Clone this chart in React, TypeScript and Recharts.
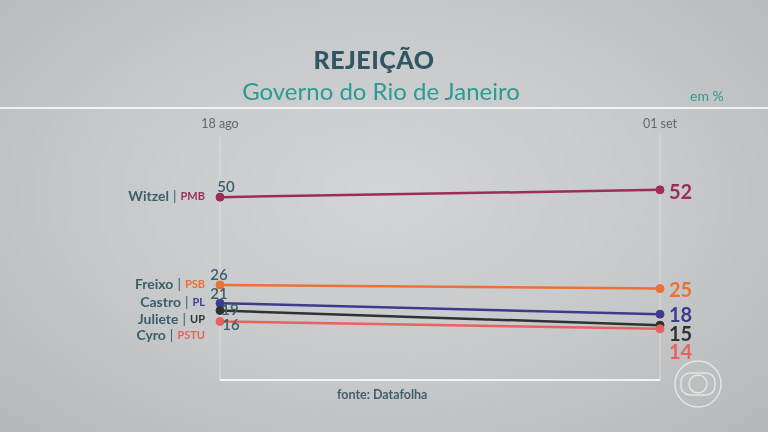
import { CartesianGrid, LabelList, Line, LineChart, ReferenceLine, XAxis, YAxis } from "recharts";

const dates = ["18 ago", "01 set"];
const witzel = [50, 52];
const freixo = [26, 25];
const castro = [21, 18];
const juliete = [19, 15];
const cyro = [16, 14];

const candidates = ["Witzel", "Freixo", "Castro", "Juliete", "Cyro"];
const parties = ["PMB", "PSB", "PL", "UP", "PSTU"];
const seriesValues = [witzel, freixo, castro, juliete, cyro];
const seriesKeys = ["witzel", "freixo", "castro", "juliete", "cyro"];
const colors = ["#9c2d58", "#ea7235", "#3b3d8c", "#2d3234", "#e8625d"];

// label nudges so the crowded bottom group stays readable
const leftValueShift = [
  [6, -11],
  [-1, -11],
  [-1, -10],
  [10, -2],
  [11, 3],
];
const rightValueShift = [1, 0, 0, 8, 22];
const nameShift = [-2, -2, -2, 7, 13];

const data = dates.map((date, i) => {
  const row: Record<string, string | number> = { date };
  seriesKeys.forEach((key, s) => {
    row[key] = seriesValues[s][i];
  });
  return row;
});

const FONT = "Lato, 'Open Sans', sans-serif";
const TEAL_DARK = "#3a5f6b";

function makeLabel(s: number) {
  return function SeriesLabel(props: any) {
    const { x, y, index, value } = props;
    if (x == null || y == null) return null;
    if (index === 0) {
      return (
        <g>
          <text
            x={x + leftValueShift[s][0]}
            y={y + leftValueShift[s][1]}
            textAnchor="middle"
            dominantBaseline="central"
            fontFamily={FONT}
            fontSize={15}
            fontWeight={600}
            fill={TEAL_DARK}
          >
            {value}
          </text>
          <text
            x={x - 15}
            y={y + nameShift[s]}
            textAnchor="end"
            dominantBaseline="central"
            fontFamily={FONT}
          >
            <tspan fontSize={14} fontWeight={700} fill={TEAL_DARK}>
              {candidates[s]}
            </tspan>
            <tspan fontSize={14} fill={TEAL_DARK} dx={4}>
              |
            </tspan>
            <tspan fontSize={11} fontWeight={700} fill={colors[s]} dx={4}>
              {parties[s]}
            </tspan>
          </text>
        </g>
      );
    }
    return (
      <text
        x={x + 9}
        y={y + rightValueShift[s]}
        textAnchor="start"
        dominantBaseline="central"
        fontFamily={FONT}
        fontSize={20}
        fontWeight={700}
        fill={colors[s]}
      >
        {value}
      </text>
    );
  };
}

export default function App() {
  return (
    <div
      style={{
        position: "fixed",
        left: 0,
        top: 0,
        width: 768,
        height: 432,
        overflow: "hidden",
        background:
          "radial-gradient(ellipse at 50% 45%, #d3d4d5 0%, #c7c8c9 55%, #b6b7b8 100%)",
        fontFamily: FONT,
      }}
    >
      <div
        style={{
          position: "absolute",
          left: 0,
          width: 748,
          top: 44,
          textAlign: "center",
          fontSize: 25,
          fontWeight: 900,
          color: "#2f5662",
          letterSpacing: 0.5,
        }}
      >
        REJEIÇÃO
      </div>
      <div
        style={{
          position: "absolute",
          left: 0,
          width: 762,
          top: 76,
          textAlign: "center",
          fontSize: 24,
          fontWeight: 400,
          color: "#2b9b93",
        }}
      >
        Governo do Rio de Janeiro
      </div>
      <div
        style={{
          position: "absolute",
          left: 690,
          top: 87,
          fontSize: 14,
          color: "#2b9b93",
        }}
      >
        em %
      </div>
      <div
        style={{
          position: "absolute",
          left: 0,
          top: 107,
          width: 768,
          height: 2,
          background: "#f2f2f2",
        }}
      />
      <div
        style={{
          position: "absolute",
          left: 337,
          top: 387,
          fontSize: 12.5,
          fontWeight: 700,
          color: "#3f5f6b",
        }}
      >
        fonte: Datafolha
      </div>
      <svg
        style={{ position: "absolute", left: 672, top: 358 }}
        width={52}
        height={52}
        viewBox="0 0 52 52"
      >
        <circle cx={26} cy={26} r={23} fill="none" stroke="#eeeeee" strokeWidth={1.5} opacity={0.8} />
        <rect x={9} y={15} width={34} height={22} rx={9} fill="none" stroke="#eeeeee" strokeWidth={1.5} opacity={0.8} />
        <circle cx={26} cy={26} r={9} fill="none" stroke="#eeeeee" strokeWidth={1.5} opacity={0.8} />
      </svg>
      <div style={{ position: "absolute", left: 0, top: 0 }}>
        <LineChart
          width={768}
          height={432}
          data={data}
          margin={{ top: 105, right: 108, bottom: 52, left: 220 }}
        >
          <CartesianGrid horizontal={false} vertical stroke="#dedede" strokeWidth={1} />
          <XAxis
            dataKey="date"
            orientation="top"
            axisLine={false}
            tickLine={false}
            tick={{ fill: "#5b6a70", fontSize: 12.5, fontFamily: FONT }}
            height={30}
            tickMargin={1}
            interval={0}
          />
          <YAxis hide domain={[0, 67]} />
          <ReferenceLine y={0} stroke="#f4f4f4" strokeWidth={2} />
          {seriesKeys.map((key, s) => (
            <Line
              key={key}
              type="linear"
              dataKey={key}
              stroke={colors[s]}
              strokeWidth={2.5}
              dot={{ r: 4, fill: colors[s], stroke: colors[s], strokeWidth: 1 }}
              activeDot={false}
              isAnimationActive={false}
            >
              <LabelList dataKey={key} content={makeLabel(s)} />
            </Line>
          ))}
        </LineChart>
      </div>
    </div>
  );
}
